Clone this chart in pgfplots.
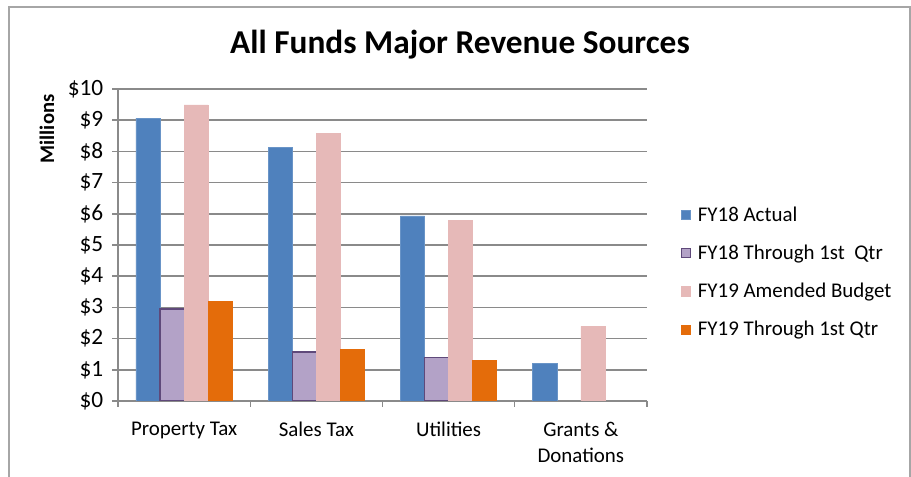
\documentclass[border=0pt]{standalone}
\usepackage{fontspec}
\setmainfont{Carlito}
\usepackage{pgfplots}
\pgfplotsset{compat=1.18}
\definecolor{cBlue}{HTML}{4F81BD}
\definecolor{cPurple}{HTML}{B3A2C7}
\definecolor{cPurpleEdge}{HTML}{5F497A}
\definecolor{cPink}{HTML}{E6B9B8}
\definecolor{cOrange}{HTML}{E46C0A}
\definecolor{cGrid}{HTML}{8A8A8A}
\definecolor{cFrame}{HTML}{A6A6A6}
\begin{document}
\begin{tikzpicture}[x=0.75pt,y=0.75pt]
\path[use as bounding box] (0,0) rectangle (911,477);
\draw[cFrame, line width=1.4pt] (9,-5) -- (9,470) -- (910,470) -- (910,-5);
\node[font=\bfseries\fontsize{25}{30}\selectfont] at (460,432) {All Funds Major Revenue Sources};
\node[rotate=90, font=\bfseries\fontsize{15.5}{18}\selectfont] at (47,348) {Millions};
\begin{axis}[
    at={(88.5pt,57pt)}, anchor=south west,
    scale only axis, width=396.75pt, height=234pt,
    ybar=0pt, bar width=0.182,
    ymin=0, ymax=10, ytick={0,1,...,10},
    xmin=-0.5, xmax=3.5,
    xtick={0,1,2,3},
    xticklabels={Property Tax, Sales Tax, Utilities, {Grants \&\\Donations}},
    xticklabel style={align=center, yshift=-8pt, font=\fontsize{15.7}{19.5}\selectfont},
    yticklabel style={xshift=-3pt, font=\fontsize{17.5}{20}\selectfont},
    minor xtick={-0.5,0.5,1.5,2.5,3.5},
    major x tick style={draw=none},
    tick align=outside,
    major tick length=4.5pt, minor tick length=4.5pt,
    axis x line*=bottom, axis y line*=left,
    ymajorgrids,
    grid style={cGrid, line width=1.1pt},
    axis line style={cGrid, line width=1.1pt},
    tick style={cGrid, line width=1.1pt},
    yticklabel={\$\pgfmathprintnumber{\tick}},
    /pgf/number format/assume math mode=true,
    legend style={at={(1,0.413)}, anchor=west, xshift=22pt, draw=none, fill=none,
        font=\fontsize{15.7}{19}\selectfont, row sep=12.3pt, legend cell align=left},
    legend image code/.code={\draw[#1] (0pt,-3.4pt) rectangle (6.8pt,3.4pt);
        \path[draw=none, fill=none] (0pt,0pt) rectangle (10.5pt,0pt);},
]
\addplot[fill=cBlue, draw=cBlue!85!white] coordinates {(0,9.07) (1,8.13) (2,5.93) (3,1.21)};
\addplot[fill=cPurple, draw=cPurpleEdge, line width=0.9pt] coordinates {(0,2.95) (1,1.57) (2,1.39)};
\addplot[fill=cPink, draw=cPink] coordinates {(0,9.49) (1,8.58) (2,5.78) (3,2.39)};
\addplot[fill=cOrange, draw=cOrange] coordinates {(0,3.20) (1,1.66) (2,1.29)};
\legend{FY18 Actual, FY18 Through 1st\ \ Qtr, FY19 Amended Budget, FY19 Through 1st Qtr}
\end{axis}
\end{tikzpicture}
\end{document}
